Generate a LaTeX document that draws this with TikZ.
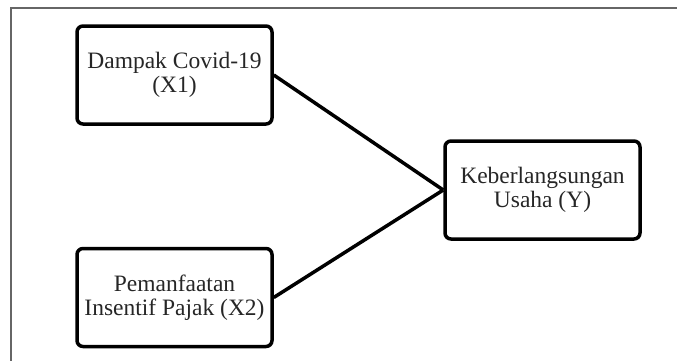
\documentclass[tikz,border=0pt]{standalone}
\usepackage{fontspec}
\setmainfont{Liberation Serif}
\begin{document}
\begin{tikzpicture}[x=1pt,y=-1pt,
  varbox/.style={draw=black,line width=3.5pt,rounded corners=6pt,minimum width=195pt,minimum height=98pt,inner sep=0pt,align=center,font=\fontsize{23.5}{24.5}\selectfont,text=black!85},
  link/.style={draw=black,line width=3.5pt}]
\useasboundingbox (0,0) rectangle (677,360);
\draw[line width=2pt,draw=black!60] (11,362) -- (11,8) -- (679,8);
\node[varbox] (x1) at (174.5,75) {Dampak Covid-19\\(X1)};
\node[varbox] (x2) at (174.5,297.5) {Pemanfaatan\\Insentif Pajak (X2)};
\node[varbox] (y) at (542.5,190) {Keberlangsungan\\Usaha (Y)};
\draw[link] (x1.east) -- (y.west);
\draw[link] (x2.east) -- (y.west);
\end{tikzpicture}
\end{document}
